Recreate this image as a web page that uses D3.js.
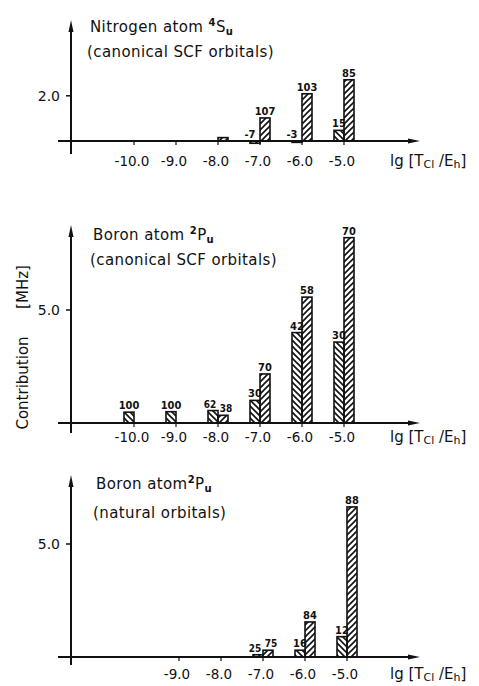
<!DOCTYPE html>
<html>
<head>
<meta charset="utf-8">
<script src="https://cdn.jsdelivr.net/npm/d3@7"></script>
<style>
  body { margin: 0; background: #fff; }
  text { font-family: "DejaVu Sans", sans-serif; fill: #111; }
</style>
</head>
<body>
<div id="chart"></div>
<script>
var width = 479;
var height = 686;

// lg(T_Cl/E_h) positions
var thresholds = [-10, -9, -8, -7, -6, -5];
var tickLabels = ["-10.0", "-9.0", "-8.0", "-7.0", "-6.0", "-5.0"];

// Nitrogen atom 4S_u, canonical SCF orbitals  [MHz]
var nitroLeft  = [0, 0, 0, -0.1, -0.06, 0.47];
var nitroRight = [0, 0, 0.15, 1.02, 2.09, 2.71];
var nitroLeftLbl  = ["", "", "", "-7", "-3", "15"];
var nitroRightLbl = ["", "", "", "107", "103", "85"];

// Boron atom 2P_u, canonical SCF orbitals
var boronLeft  = [0.48, 0.5, 0.55, 1.0, 4.0, 3.58];
var boronRight = [0, 0, 0.34, 2.17, 5.57, 8.2];
var boronLeftLbl  = ["100", "100", "62", "30", "42", "30"];
var boronRightLbl = ["", "", "38", "70", "58", "70"];

// Boron atom 2P_u, natural orbitals
var natLeft  = [0, 0, 0, 0.1, 0.3, 0.9];
var natRight = [0, 0, 0, 0.3, 1.55, 6.64];
var natLeftLbl  = ["", "", "", "25", "16", "12"];
var natRightLbl = ["", "", "", "75", "84", "88"];

var svg = d3.select("#chart")
    .append("svg")
    .attr("width", width)
    .attr("height", height);

var defs = svg.append("defs");

function hatch(id, d) {
  defs.append("pattern")
      .attr("id", id)
      .attr("patternUnits", "userSpaceOnUse")
      .attr("width", 6)
      .attr("height", 6)
    .append("path")
      .attr("d", d)
      .attr("stroke", "#111")
      .attr("stroke-width", 1.6)
      .attr("fill", "none");
}
hatch("back", "M0,0 L6,6 M-2,4 L2,8 M4,-2 L8,2");
hatch("fwd", "M0,6 L6,0 M-2,2 L2,-2 M4,8 L8,4");

var unitPx = 22.6;
var barW = 10;

var panels = [
  {base: 141, top: 20, bottom: 154, shift: 0, ticks: [2.0], first: 0, labelY: 166,
   left: nitroLeft, right: nitroRight, ll: nitroLeftLbl, rl: nitroRightLbl,
   title: ["Nitrogen atom ", "4", "S", "u"], sub: "(canonical SCF orbitals)", titleX: 90, titleY: 32},
  {base: 423, top: 225, bottom: 433, shift: 0, ticks: [5.0], first: 0, labelY: 442,
   left: boronLeft, right: boronRight, ll: boronLeftLbl, rl: boronRightLbl,
   title: ["Boron atom ", "2", "P", "u"], sub: "(canonical SCF orbitals)", titleX: 93, titleY: 240},
  {base: 657, top: 475, bottom: 665, shift: 3, ticks: [5.0], first: 1, labelY: 679,
   left: natLeft, right: natRight, ll: natLeftLbl, rl: natRightLbl,
   title: ["Boron atom", "2", "P", "u"], sub: "(natural  orbitals)", titleX: 96, titleY: 489}
];

panels.forEach(function(p) {
  var x = d3.scaleLinear().domain([-10, -5]).range([134 + p.shift, 344 + p.shift]);
  var y = d3.scaleLinear().domain([0, 1]).range([p.base, p.base - unitPx]);

  var g = svg.append("g");

  // bars
  thresholds.forEach(function(t, i) {
    var lv = p.left[i], rv = p.right[i];
    var pair = p.ll[i] && p.rl[i] && Math.abs(y(lv) - y(rv)) < 12;
    if (lv !== 0) {
      g.append("rect")
        .attr("x", x(t) - barW)
        .attr("y", Math.min(y(lv), y(0)))
        .attr("width", barW)
        .attr("height", Math.abs(y(lv) - y(0)))
        .attr("fill", "url(#back)")
        .attr("stroke", "#111")
        .attr("stroke-width", 1.6);
    }
    if (rv !== 0) {
      g.append("rect")
        .attr("x", x(t))
        .attr("y", Math.min(y(rv), y(0)))
        .attr("width", barW)
        .attr("height", Math.abs(y(rv) - y(0)))
        .attr("fill", "url(#fwd)")
        .attr("stroke", "#111")
        .attr("stroke-width", 1.6);
    }
    if (p.ll[i]) {
      g.append("text")
        .attr("x", x(t) - barW / 2 - (lv < 0 ? 5 : 0) - (pair ? 3 : 0))
        .attr("y", y(Math.max(lv, 0)) - 3)
        .attr("text-anchor", "middle")
        .style("font-family", "'DejaVu Sans Condensed', 'DejaVu Sans', sans-serif")
        .style("font-size", pair ? "10px" : "11px")
        .style("font-weight", "bold")
        .text(p.ll[i]);
    }
    if (p.rl[i]) {
      g.append("text")
        .attr("x", x(t) + barW / 2 + (pair ? 3 : 0))
        .attr("y", y(Math.max(rv, 0)) - 3)
        .attr("text-anchor", "middle")
        .style("font-family", "'DejaVu Sans Condensed', 'DejaVu Sans', sans-serif")
        .style("font-size", pair ? "10px" : "11px")
        .style("font-weight", "bold")
        .text(p.rl[i]);
    }
  });

  // x axis with arrow
  g.append("line")
    .attr("x1", 58).attr("x2", 412)
    .attr("y1", p.base).attr("y2", p.base)
    .attr("stroke", "#111").attr("stroke-width", 2);
  g.append("path")
    .attr("d", "M420," + p.base + " L408," + (p.base - 2.5) + " L408," + (p.base + 2.5) + "Z")
    .attr("fill", "#111");

  // small ticks under the axis
  thresholds.slice(p.first).forEach(function(t) {
    g.append("line")
      .attr("x1", x(t)).attr("x2", x(t))
      .attr("y1", p.base).attr("y2", p.base + 4)
      .attr("stroke", "#111").attr("stroke-width", 1.2);
  });

  g.selectAll(".xlab")
    .data(thresholds.slice(p.first))
    .enter().append("text")
      .attr("x", function(d) { return x(d) - 2; })
      .attr("y", p.labelY)
      .attr("text-anchor", "middle")
      .style("font-size", "13.5px")
      .text(function(d, i) { return tickLabels[i + p.first]; });

  // y axis with arrow
  g.append("line")
    .attr("x1", 71).attr("x2", 71)
    .attr("y1", p.top + 8).attr("y2", p.bottom)
    .attr("stroke", "#111").attr("stroke-width", 2);
  g.append("path")
    .attr("d", "M71," + p.top + " L68.5," + (p.top + 12) + " L73.5," + (p.top + 12) + "Z")
    .attr("fill", "#111");

  p.ticks.forEach(function(v) {
    g.append("line")
      .attr("x1", 66).attr("x2", 71)
      .attr("y1", y(v)).attr("y2", y(v))
      .attr("stroke", "#111").attr("stroke-width", 1.5);
    g.append("text")
      .attr("x", 60)
      .attr("y", y(v) + 5)
      .attr("text-anchor", "end")
      .style("font-size", "14px")
      .text(d3.format(".1f")(v));
  });

  // x axis title: lg [T_Cl / E_h]
  var xt = g.append("text")
    .attr("x", 390)
    .attr("y", p.labelY)
    .style("font-size", "15px");
  xt.append("tspan").text("lg [T");
  xt.append("tspan").attr("dy", 2).style("font-size", "11px").text("Cl");
  xt.append("tspan").attr("dy", -2).text(" /E");
  xt.append("tspan").attr("dy", 2).style("font-size", "11px").text("h");
  xt.append("tspan").attr("dy", -2).text("]");

  // panel titles
  var tt = g.append("text")
    .attr("x", p.titleX)
    .attr("y", p.titleY)
    .style("font-size", "15px")
    .style("letter-spacing", "0.4px");
  tt.append("tspan").text(p.title[0]);
  tt.append("tspan").attr("dy", -6).style("font-size", "10px").style("font-weight", "bold").text(p.title[1]);
  tt.append("tspan").attr("dy", 6).text(p.title[2]);
  tt.append("tspan").attr("dy", 3).style("font-size", "10px").style("font-weight", "bold").text(p.title[3]);

  g.append("text")
    .attr("x", p.titleX - 3)
    .attr("y", p.titleY + (p.first ? 29 : 25))
    .style("font-size", "15px")
    .style("letter-spacing", "0.4px")
    .text(p.sub);
});

// shared y label
svg.append("text")
    .attr("transform", "translate(28,383) rotate(-90)")
    .attr("text-anchor", "middle")
    .style("font-size", "15px")
    .text("Contribution");
svg.append("text")
    .attr("transform", "translate(28,287) rotate(-90)")
    .attr("text-anchor", "middle")
    .style("font-size", "15px")
    .text("[MHz]");
</script>
</body>
</html>
